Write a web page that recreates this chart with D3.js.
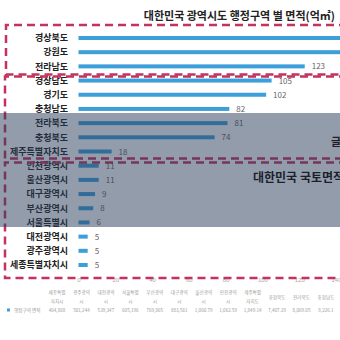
<!DOCTYPE html>
<html><head><meta charset="utf-8">
<script src="https://cdn.jsdelivr.net/npm/d3@7"></script>
<style>
html,body{margin:0;padding:0;background:#fff;}
svg{display:block;font-family:"Noto Sans CJK KR","Noto Sans",sans-serif;}
</style></head>
<body>
<script>
const categories = ["경상북도","강원도","전라남도","경상남도","경기도","충청남도","전라북도","충청북도","제주특별자치도","인천광역시","울산광역시","대구광역시","부산광역시","서울특별시","대전광역시","광주광역시","세종특별자치시"];
const values = [190,168,123,105,102,82,81,74,18,11,11,9,8,6,5,5,5];
const tickValues = [0,20,40,60,80,100,120,140];
const tableNames = [["세종특별","자치시"],["광주광역","시"],["대전광역","시"],["서울특별","시"],["부산광역","시"],["대구광역","시"],["울산광역","시"],["인천광역","시"],["제주특별","자치도"],["충청북도"],["전라북도"],["충청남도"]];
const tableValues = ["464,868","501,244","539,347","605,196","769,865","883,561","1,060.79","1,062.59","1,849.14","7,407.29","8,069.05","8,226.1"];
const title = "대한민국 광역시도 행정구역 별 면적(억㎡)";
const legendLabel = "행정구역 면적";

const W=340,H=340;
const svg=d3.select("body").append("svg").attr("width",W).attr("height",H);
svg.append("rect").attr("width",W).attr("height",H).attr("fill","#fff");

const x=d3.scaleLinear().domain([0,140]).range([78.5,336]);
const y=d3.scaleBand().domain(categories).range([30.9,272.1]).padding(0);
const cy=d=>y(d)+y.bandwidth()/2;

// title
svg.append("text").attr("x",335).attr("y",19.5).attr("text-anchor","end")
  .attr("font-size",11).attr("font-weight","bold").attr("fill","#222").text(title);

// bars
svg.append("g").selectAll("rect").data(categories).join("rect")
  .attr("x",x(0)).attr("y",d=>cy(d)-2).attr("height",4)
  .attr("width",(d,i)=>x(values[i])-x(0)).attr("fill","#3d9fda");

// value labels (only those that fall inside the visible plot)
const shown=categories.map((d,i)=>({d,v:values[i]})).filter(o=>x(o.v)+7<W);
svg.append("g").selectAll("text").data(shown).join("text")
  .attr("x",o=>x(o.v)+7).attr("y",o=>cy(o.d)+3)
  .attr("font-size",8).attr("fill","#666").text(o=>o.v);

// category labels
svg.append("g").selectAll("text").data(categories).join("text")
  .attr("x",68).attr("y",d=>cy(d)+3.3).attr("text-anchor","end")
  .attr("font-size",9).attr("font-weight","bold").attr("fill","#222").text(d=>d);

// axis tick labels
const ax=svg.append("g").attr("transform","translate(0,280)")
  .call(d3.axisBottom(x).tickValues(tickValues).tickSize(0).tickPadding(0));
ax.select(".domain").remove();
ax.selectAll("text").attr("font-size",6).attr("fill","#aaa").attr("dy","0.3em");

// bottom table
const tx=d3.scalePoint().domain(d3.range(tableNames.length)).range([57,326]);
const tg=svg.append("g").attr("font-size",4.6).attr("fill","#9a9a9a").attr("text-anchor","middle");
tableNames.forEach((n,i)=>{
  if(n.length===2){
    tg.append("text").attr("x",tx(i)).attr("y",294).text(n[0]);
    tg.append("text").attr("x",tx(i)).attr("y",303).text(n[1]);
  } else {
    tg.append("text").attr("x",tx(i)).attr("y",299).text(n[0]);
  }
  tg.append("text").attr("x",tx(i)).attr("y",312).text(tableValues[i]);
});
svg.append("rect").attr("x",7).attr("y",308.5).attr("width",3).attr("height",3).attr("fill","#3d9fda");
svg.append("text").attr("x",14).attr("y",312).attr("font-size",4.6).attr("fill","#9a9a9a").text(legendLabel);

// dashed boxes
const dash={"stroke":"#c4325e","stroke-width":2.5,"fill":"none","stroke-dasharray":"8,5"};
function box(x0,y0,x1,y1){
  const p=svg.append("path").attr("d",`M${x1},${y0}H${x0}V${y1}H${x1}`);
  Object.entries(dash).forEach(([k,v])=>p.attr(k,v));
}
box(6,25,360,74.5);
box(5,76.5,360,158.5);
box(5,162.5,360,278);

// overlay band
svg.append("rect").attr("x",0).attr("y",113).attr("width",W).attr("height",114)
  .attr("fill","rgb(40,58,88)").attr("opacity",0.5);
svg.append("text").attr("x",331).attr("y",146).attr("font-size",11).attr("font-weight","bold").attr("fill","#1c1f2c").text("글");
svg.append("text").attr("x",253).attr("y",182).attr("font-size",12).attr("font-weight","bold").attr("fill","#1c1f2c").text("대한민국 국토면적");
</script>
</body></html>
